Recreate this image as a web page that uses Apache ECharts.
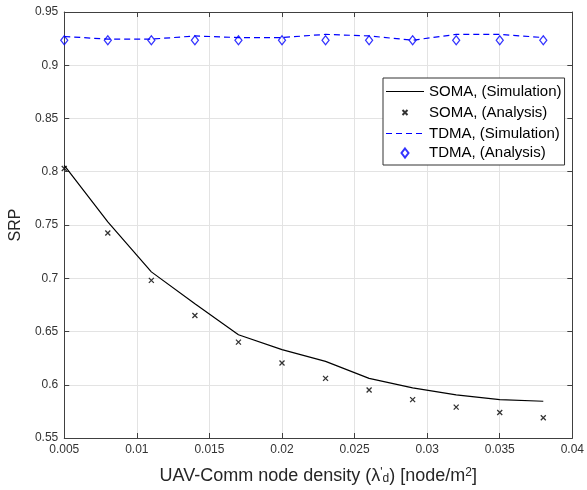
<!DOCTYPE html>
<html>
<head>
<meta charset="utf-8">
<script src="https://cdn.jsdelivr.net/npm/echarts@6/dist/echarts.min.js"></script>
<style>
  html, body { margin: 0; padding: 0; background: #fff; }
  #main { width: 587px; height: 490px; }
</style>
</head>
<body>
<div id="main"></div>
<script>
// 节点密度
var density = [0.005, 0.008, 0.011, 0.014, 0.017, 0.020, 0.023, 0.026, 0.029, 0.032, 0.035, 0.038];
// SOMA 仿真 / 分析
var somaSim = [0.806, 0.753, 0.706, 0.676, 0.647, 0.633, 0.622, 0.606, 0.597, 0.5905, 0.586, 0.5845];
var somaAna = [0.803, 0.7425, 0.698, 0.665, 0.640, 0.6205, 0.606, 0.595, 0.586, 0.579, 0.574, 0.569];
// TDMA 仿真 / 分析
var tdmaSim = [0.927, 0.9245, 0.9245, 0.9275, 0.926, 0.926, 0.929, 0.9275, 0.9235, 0.929, 0.929, 0.926];
var tdmaAna = [0.9235, 0.9235, 0.9235, 0.9235, 0.9235, 0.9235, 0.9235, 0.9235, 0.9235, 0.9235, 0.9235, 0.9235];

function pairs(xs, ys) {
    return xs.map(function (x, i) { return [x, ys[i]]; });
}

var font = 'Liberation Sans, Arial, Helvetica, sans-serif';
var axisColor = '#404040';
var crossPath = 'path://M0,0L10,10M10,0L0,10';

// 图例图标（带留白的 path，控制图标大小）
var iconSolid = 'path://M0,0L38,0L38,1.2L0,1.2Z';
var iconDash = 'path://M0,0L6,0L6,1.2L0,1.2ZM10,0L16,0L16,1.2L10,1.2ZM20,0L26,0L26,1.2L20,1.2ZM30,0L36,0L36,1.2L30,1.2ZM38,0';
var iconCross = 'path://M-4.5,-4.5M9.5,9.5M0,0L5,5M5,0L0,5';
var iconDiamond = 'path://M3.5,-2.5M3.5,11.5M3.5,0L7,4.5L3.5,9L0,4.5Z';

var myChart = echarts.init(document.getElementById('main'));
myChart.setOption({
    animation: false,
    textStyle: { fontFamily: font },
    grid: { left: 62, right: 14, top: 12, bottom: 49 },
    legend: {
        orient: 'vertical',
        left: 383,
        top: 78,
        padding: [6, 3, 4, 3],
        itemWidth: 38,
        itemHeight: 14,
        itemGap: 4,
        backgroundColor: '#fff',
        borderColor: '#333',
        borderWidth: 1,
        borderRadius: 0,
        textStyle: { fontSize: 15, color: '#000', fontFamily: font },
        data: [
            { name: 'SOMA, (Simulation)', icon: iconSolid },
            { name: 'SOMA, (Analysis)', icon: iconCross },
            { name: 'TDMA, (Simulation)', icon: iconDash },
            { name: 'TDMA, (Analysis)', icon: iconDiamond }
        ]
    },
    xAxis: [{
        type: 'value',
        min: 0.005,
        max: 0.04,
        interval: 0.005,
        name: 'UAV-Comm node density ({a|λ}{sup|\'}{sub|d}) [node/m{sup|2}]',
        nameLocation: 'middle',
        nameGap: 29,
        nameTextStyle: {
            fontSize: 18, color: '#262626', fontFamily: font,
            rich: {
                a: { fontSize: 18, fontFamily: font },
                sup: { fontSize: 12, verticalAlign: 'top', fontFamily: font },
                sub: { fontSize: 12, verticalAlign: 'bottom', fontFamily: font }
            }
        },
        axisLine: { lineStyle: { color: axisColor } },
        axisTick: { inside: true, length: 5, lineStyle: { color: axisColor } },
        axisLabel: { fontSize: 12, color: '#333', margin: 6 },
        splitLine: { show: true, lineStyle: { color: '#e3e3e3' } }
    }, {
        type: 'value',
        position: 'top',
        min: 0.005,
        max: 0.04,
        interval: 0.005,
        axisLine: { show: true, lineStyle: { color: axisColor } },
        axisTick: { show: true, inside: true, length: 5, lineStyle: { color: axisColor } },
        axisLabel: { show: false },
        splitLine: { show: false }
    }],
    yAxis: [{
        type: 'value',
        min: 0.55,
        max: 0.95,
        interval: 0.05,
        name: 'SRP',
        nameLocation: 'middle',
        nameGap: 38,
        nameTextStyle: { fontSize: 16, color: '#262626', fontFamily: font },
        axisLine: { show: true, lineStyle: { color: axisColor } },
        axisTick: { show: true, inside: true, length: 5, lineStyle: { color: axisColor } },
        axisLabel: { fontSize: 12, color: '#333', margin: 6 },
        splitLine: { show: true, lineStyle: { color: '#e3e3e3' } }
    }, {
        type: 'value',
        position: 'right',
        min: 0.55,
        max: 0.95,
        interval: 0.05,
        axisLine: { show: true, lineStyle: { color: axisColor } },
        axisTick: { show: true, inside: true, length: 5, lineStyle: { color: axisColor } },
        axisLabel: { show: false },
        splitLine: { show: false }
    }],
    series: [{
        name: 'SOMA, (Simulation)',
        type: 'line',
        symbol: 'none',
        data: pairs(density, somaSim),
        lineStyle: { color: '#000', width: 1.2 },
        itemStyle: { color: '#000' }
    }, {
        name: 'SOMA, (Analysis)',
        type: 'scatter',
        symbol: crossPath,
        symbolSize: 5,
        data: pairs(density, somaAna),
        itemStyle: { color: 'none', borderColor: '#000', borderWidth: 1.3 }
    }, {
        name: 'TDMA, (Simulation)',
        type: 'line',
        symbol: 'none',
        data: pairs(density, tdmaSim),
        lineStyle: { color: '#0000ff', width: 1.2, type: [6, 4] },
        itemStyle: { color: '#0000ff' }
    }, {
        name: 'TDMA, (Analysis)',
        type: 'scatter',
        symbol: 'diamond',
        symbolSize: [7, 9],
        data: pairs(density, tdmaAna),
        itemStyle: { color: 'rgba(255,255,255,0)', borderColor: '#0000ff', borderWidth: 1.3 }
    }]
});
</script>
</body>
</html>
